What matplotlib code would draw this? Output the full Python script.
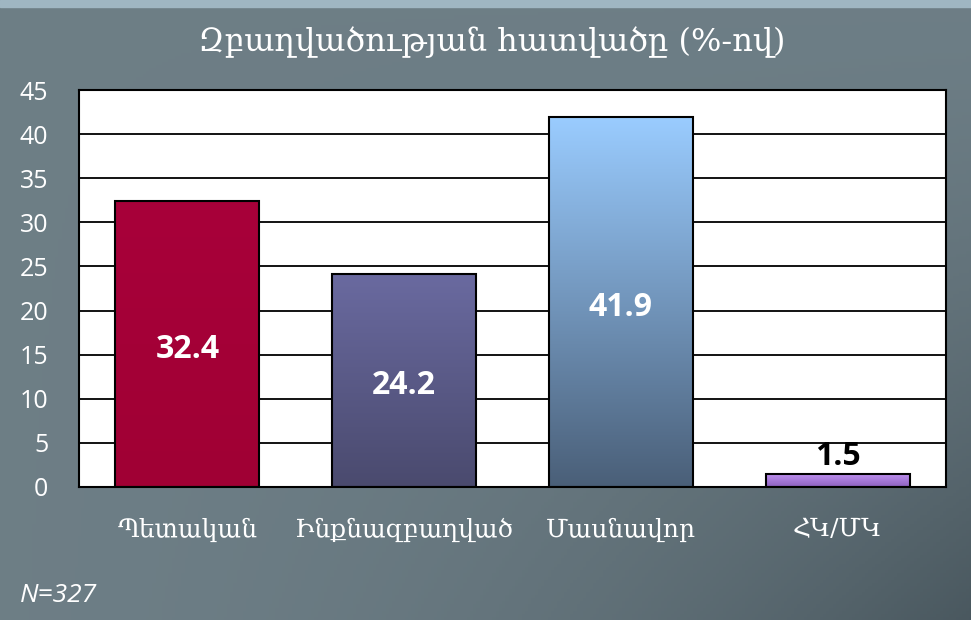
import numpy as np
import matplotlib.pyplot as plt
from matplotlib.colors import LinearSegmentedColormap
from matplotlib.patches import Rectangle

categories = ["Պետական", "Ինքնազբաղված", "Մասնավոր", "ՀԿ/ՄԿ"]
values = [32.4, 24.2, 41.9, 1.5]
title = "Զբաղվածության հատվածը (%-ով)"
note = "N=327"

# top / bottom colours of each bar's gradient
bar_top = ["#A8003A", "#6A6AA0", "#9ACCFF", "#C092F2"]
bar_bottom = ["#A00034", "#4A4A6E", "#4A5F78", "#8E62C0"]
label_col = ["white", "white", "white", "black"]

armenian = ["DejaVu Serif", "DejaVu Sans"]
numfont = ["Open Sans", "DejaVu Sans"]

fig = plt.figure(figsize=(9.71, 6.20), dpi=100)

# background gradient: lighter top-left, darker bottom-right
bg = fig.add_axes([0, 0, 1, 1])
bg.set_axis_off()
yy, xx = np.mgrid[0:1:200j, 0:1:300j]
shade = 0.05 + 0.9 * (xx ** 2) * (yy ** 1.5)
bg_cmap = LinearSegmentedColormap.from_list("bg", ["#6F8088", "#48565D"])
bg.imshow(shade, cmap=bg_cmap, vmin=0, vmax=1, aspect="auto", extent=[0, 1, 0, 1], origin="upper")
bg.add_patch(Rectangle((0, 1 - 7 / 620), 1, 7 / 620, color="#9FB6C2", transform=bg.transAxes))
bg.set_xlim(0, 1)
bg.set_ylim(0, 1)

ax = fig.add_axes([79 / 971, 1 - 487 / 620, 867 / 971, 397 / 620])
ax.set_facecolor("white")
x = np.arange(len(categories))
width = 0.664
ax.set_xlim(-0.5, len(categories) - 0.5)
ax.set_ylim(0, 45)
ax.set_yticks(np.arange(0, 46, 5))
ax.yaxis.grid(True, color="black", lw=1.3)
ax.set_axisbelow(True)

for i, v in enumerate(values):
    cmap = LinearSegmentedColormap.from_list("b%d" % i, [bar_bottom[i], bar_top[i]])
    grad = np.linspace(0, 1, 256).reshape(-1, 1)
    im = ax.imshow(grad, cmap=cmap, aspect="auto", origin="lower",
                   extent=[x[i] - width / 2, x[i] + width / 2, 0, v], zorder=2)
    rect = Rectangle((x[i] - width / 2, 0), width, v, facecolor="none",
                     edgecolor="black", lw=1.5, zorder=3)
    ax.add_patch(rect)
    im.set_clip_path(rect)
    if v > 5:
        ax.text(x[i], v / 2 - 0.6, "%.1f" % v, ha="center", va="center", color=label_col[i],
                fontsize=23, fontweight="bold", family=numfont, zorder=4)
    else:
        ax.text(x[i], v + 0.1, "%.1f" % v, ha="center", va="bottom", color=label_col[i],
                fontsize=23, fontweight="bold", family=numfont, zorder=4)

ax.set_xticks(x)
ax.set_xticklabels(categories, family=armenian, fontsize=18, color="white")
ax.tick_params(axis="x", length=0, pad=22)
ax.tick_params(axis="y", length=0, pad=22, labelsize=18, labelcolor="white")
for lab in ax.get_yticklabels():
    lab.set_family(numfont)
for s in ax.spines.values():
    s.set_color("black")
    s.set_linewidth(1.5)

fig.text(492 / 971, 1 - 42 / 620, title, ha="center", va="center", color="white",
         fontsize=23, family=armenian)
fig.text(20 / 971, 1 - 595 / 620, note, ha="left", va="center", color="white",
         fontsize=19, style="italic", family=numfont)

fig.savefig("out.png", dpi=100)
